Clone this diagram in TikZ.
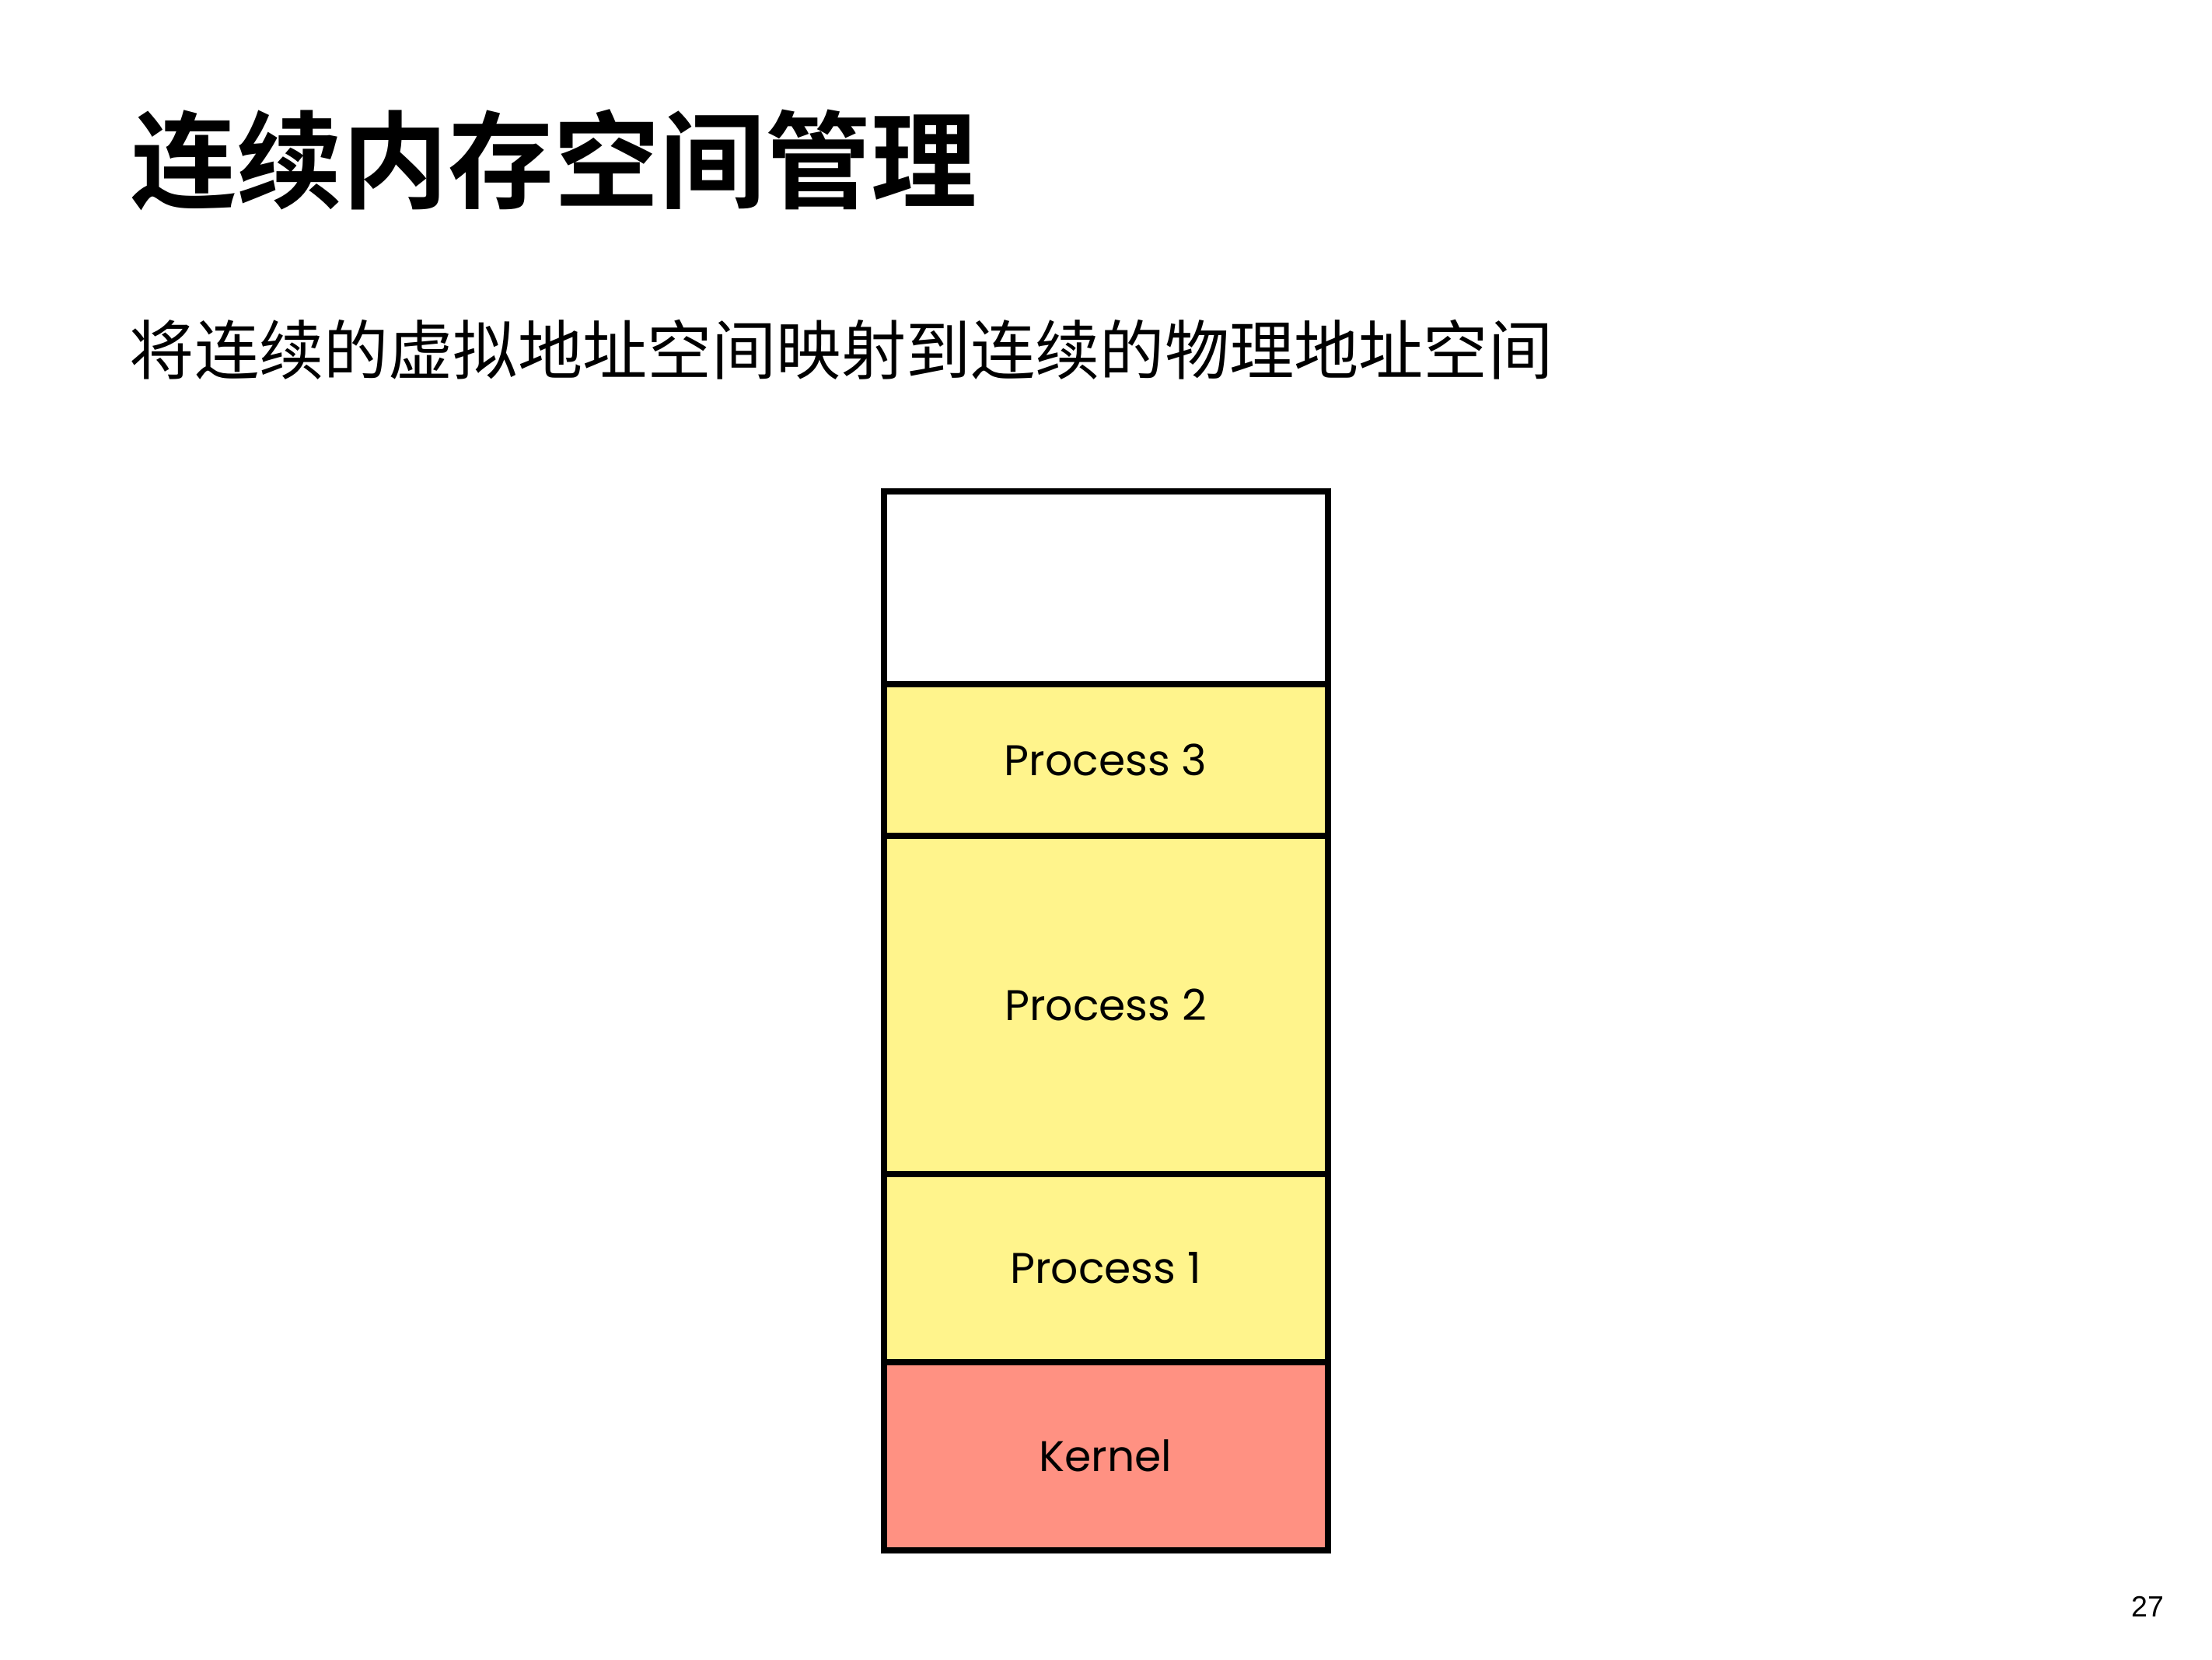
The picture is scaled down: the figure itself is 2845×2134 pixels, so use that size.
\documentclass[tikz,border=0pt]{standalone}
\usepackage{fontspec}
\setmainfont{Poppins}
\newfontfamily\cjk{Noto Sans CJK SC}
\newfontfamily\cjkbold{Noto Sans CJK SC Bold}
\newfontfamily\pagefont{Liberation Sans}
\usepackage{xcolor}
\usepackage{tikz}
\usetikzlibrary{positioning}
\definecolor{procyellow}{RGB}{255,244,140}
\definecolor{kernred}{RGB}{255,145,130}
\tikzset{seg/.style={rectangle,draw,line width=2pt,minimum width=142.75pt,inner sep=0pt,font=\fontsize{13.8}{16}\selectfont}}

\begin{document}
\begin{tikzpicture}[x=0.25pt,y=-0.25pt]
    \useasboundingbox[fill=white] (0,0) rectangle (2845,2134);
    \node[anchor=west,inner sep=0pt] (title) at (168,206) {\cjkbold\fontsize{34}{40}\selectfont 连续内存空间管理};
    \node[anchor=west,inner sep=0pt] (sub) at (166,450) {\cjk\fontsize{20.8}{24}\selectfont 将连续的虚拟地址空间映射到连续的物理地址空间};

    \node[seg,fill=white,minimum height=62.1pt] (free) at (1422,755.75) {};
    \node[seg,fill=procyellow,minimum height=48.7pt] (p3) at (1422,977.35) {Process 3};
    \node[seg,fill=procyellow,minimum height=108.8pt] (p2) at (1422,1292.35) {Process 2};
    \node[seg,fill=procyellow,minimum height=60.4pt] (p1) at (1422,1630.75) {Process 1};
    \node[seg,fill=kernred,minimum height=60.6pt] (kern) at (1422,1872.75) {Kernel};

    \node[inner sep=0pt] (page) at (2762,2066) {\pagefont\fontsize{9.4}{11}\selectfont 27};
\end{tikzpicture}
\end{document}
